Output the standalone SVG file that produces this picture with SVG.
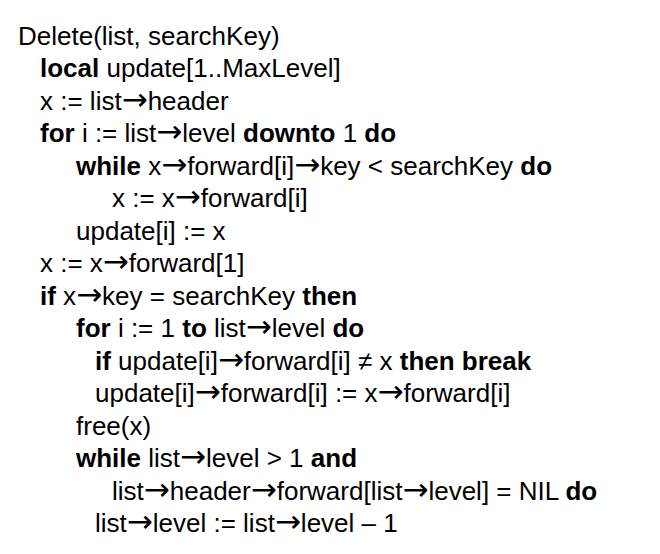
<svg xmlns="http://www.w3.org/2000/svg" width="660" height="554" viewBox="0 0 660 554">
<style>
text{font-family:"Liberation Sans",Arial,sans-serif;font-size:26px;fill:#000}
.b{font-weight:bold}
.a{font-family:"DejaVu Sans",sans-serif;font-size:31px;font-weight:normal}
</style>
<rect width="660" height="554" fill="#fff"/>
<text x="18" y="45">Delete(list, searchKey)</text>
<text x="40" y="77"><tspan class="b">local</tspan> update[1..MaxLevel]</text>
<text x="40" y="110">x := list<tspan class="a">→</tspan>header</text>
<text x="40" y="142"><tspan class="b">for</tspan> i := list<tspan class="a">→</tspan>level <tspan class="b">downto</tspan> 1 <tspan class="b">do</tspan></text>
<text x="76" y="175"><tspan class="b">while</tspan> x<tspan class="a">→</tspan>forward[i]<tspan class="a">→</tspan>key &lt; searchKey <tspan class="b">do</tspan></text>
<text x="112" y="207">x := x<tspan class="a">→</tspan>forward[i]</text>
<text x="76" y="240">update[i] := x</text>
<text x="40" y="272">x := x<tspan class="a">→</tspan>forward[1]</text>
<text x="40" y="305"><tspan class="b">if</tspan> x<tspan class="a">→</tspan>key = searchKey <tspan class="b">then</tspan></text>
<text x="76" y="337"><tspan class="b">for</tspan> i := 1 <tspan class="b">to</tspan> list<tspan class="a">→</tspan>level <tspan class="b">do</tspan></text>
<text x="95" y="370"><tspan class="b">if</tspan> update[i]<tspan class="a">→</tspan>forward[i] ≠ x <tspan class="b">then break</tspan></text>
<text x="95" y="402">update[i]<tspan class="a">→</tspan>forward[i] := x<tspan class="a">→</tspan>forward[i]</text>
<text x="76" y="435">free(x)</text>
<text x="76" y="467"><tspan class="b">while</tspan> list<tspan class="a">→</tspan>level &gt; 1 <tspan class="b">and</tspan></text>
<text x="112" y="500">list<tspan class="a">→</tspan>header<tspan class="a">→</tspan>forward[list<tspan class="a">→</tspan>level] = NIL <tspan class="b">do</tspan></text>
<text x="95" y="532">list<tspan class="a">→</tspan>level := list<tspan class="a">→</tspan>level – 1</text>
</svg>
